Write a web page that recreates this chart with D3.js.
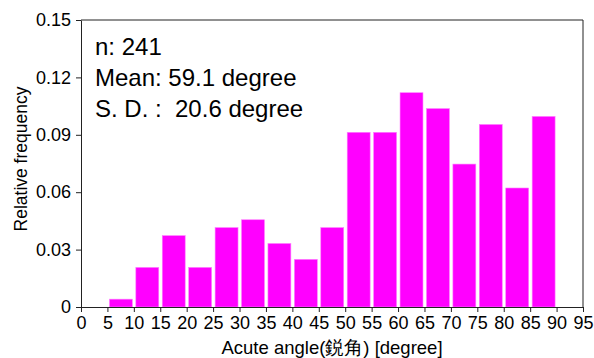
<!DOCTYPE html>
<html>
<head>
<meta charset="utf-8">
<script src="https://cdn.jsdelivr.net/npm/d3@7"></script>
<style>
  body { margin: 0; background: #fff; }
  text { font-family: "Liberation Sans", Arial, sans-serif; }
</style>
</head>
<body>
<svg id="chart"></svg>
<script>
// Chart data: bins of 5 degrees, relative frequency
const binStarts = [5, 10, 15, 20, 25, 30, 35, 40, 45, 50, 55, 60, 65, 70, 75, 80, 85];
const relFreq = [0.0041, 0.0207, 0.0373, 0.0207, 0.0415, 0.0456, 0.0332, 0.0249, 0.0415,
                 0.0913, 0.0913, 0.1120, 0.1037, 0.0747, 0.0954, 0.0622, 0.0996];
const binWidth = 5;
const xTicks = d3.range(0, 96, 5);
const yTicks = [0, 0.03, 0.06, 0.09, 0.12, 0.15];
const statLines = ["n: 241", "Mean: 59.1 degree", "S. D. :  20.6 degree"];

const svgWidth = 594;
const svgHeight = 358;
const svg = d3.select("#chart")
  .attr("width", svgWidth)
  .attr("height", svgHeight);

const plotLeft = 81, plotRight = 583, plotTop = 20, plotBottom = 307;

const x = d3.scaleLinear().domain([0, 95]).range([plotLeft, plotRight]);
const y = d3.scaleLinear().domain([0, 0.15]).range([plotBottom, plotTop]);

// bars
svg.selectAll(".bar")
  .data(binStarts)
  .enter()
  .append("rect")
  .attr("class", "bar")
  .attr("x", d => x(d) + 2)
  .attr("width", d => x(d + binWidth) - x(d) - 3.5)
  .attr("y", (d, i) => y(relFreq[i]))
  .attr("height", (d, i) => y(0) - y(relFreq[i]))
  .attr("fill", "#ff00ff")
  .attr("stroke", "#ff7fff")
  .attr("stroke-width", 0.6);

// frame (top and right)
svg.append("path")
  .attr("d", `M${plotLeft},${plotTop}H${plotRight}V${plotBottom}`)
  .attr("fill", "none")
  .attr("stroke", "#222")
  .attr("stroke-width", 1);

// x axis
const xAxis = svg.append("g")
  .attr("transform", `translate(0,${plotBottom})`)
  .call(d3.axisBottom(x).tickValues(xTicks).tickSize(5).tickSizeOuter(0).tickPadding(4));

// y axis
const yAxis = svg.append("g")
  .attr("transform", `translate(${plotLeft},0)`)
  .call(d3.axisLeft(y).tickValues(yTicks).tickSize(5).tickSizeOuter(0).tickPadding(5)
    .tickFormat(d => d === 0 ? "0" : d3.format(".2f")(d)));

[xAxis, yAxis].forEach(g => {
  g.selectAll("path, line").attr("stroke", "#222");
  g.selectAll("text")
    .attr("fill", "#000")
    .attr("font-size", 18)
    .style("font-family", "'Liberation Sans', Arial, sans-serif");
});

// axis titles
svg.append("text")
  .attr("x", (plotLeft + plotRight) / 2)
  .attr("y", 354)
  .attr("text-anchor", "middle")
  .attr("font-size", 18.5)
  .text("Acute angle(鋭角) [degree]");

svg.append("text")
  .attr("transform", "translate(27,159) rotate(-90)")
  .attr("text-anchor", "middle")
  .attr("font-size", 17.5)
  .text("Relative frequency");

// stats annotation
svg.selectAll(".stat")
  .data(statLines)
  .enter()
  .append("text")
  .attr("class", "stat")
  .attr("x", 95)
  .attr("y", (d, i) => 55 + i * 31)
  .attr("font-size", 24)
  .style("white-space", "pre")
  .text(d => d);
</script>
</body>
</html>
